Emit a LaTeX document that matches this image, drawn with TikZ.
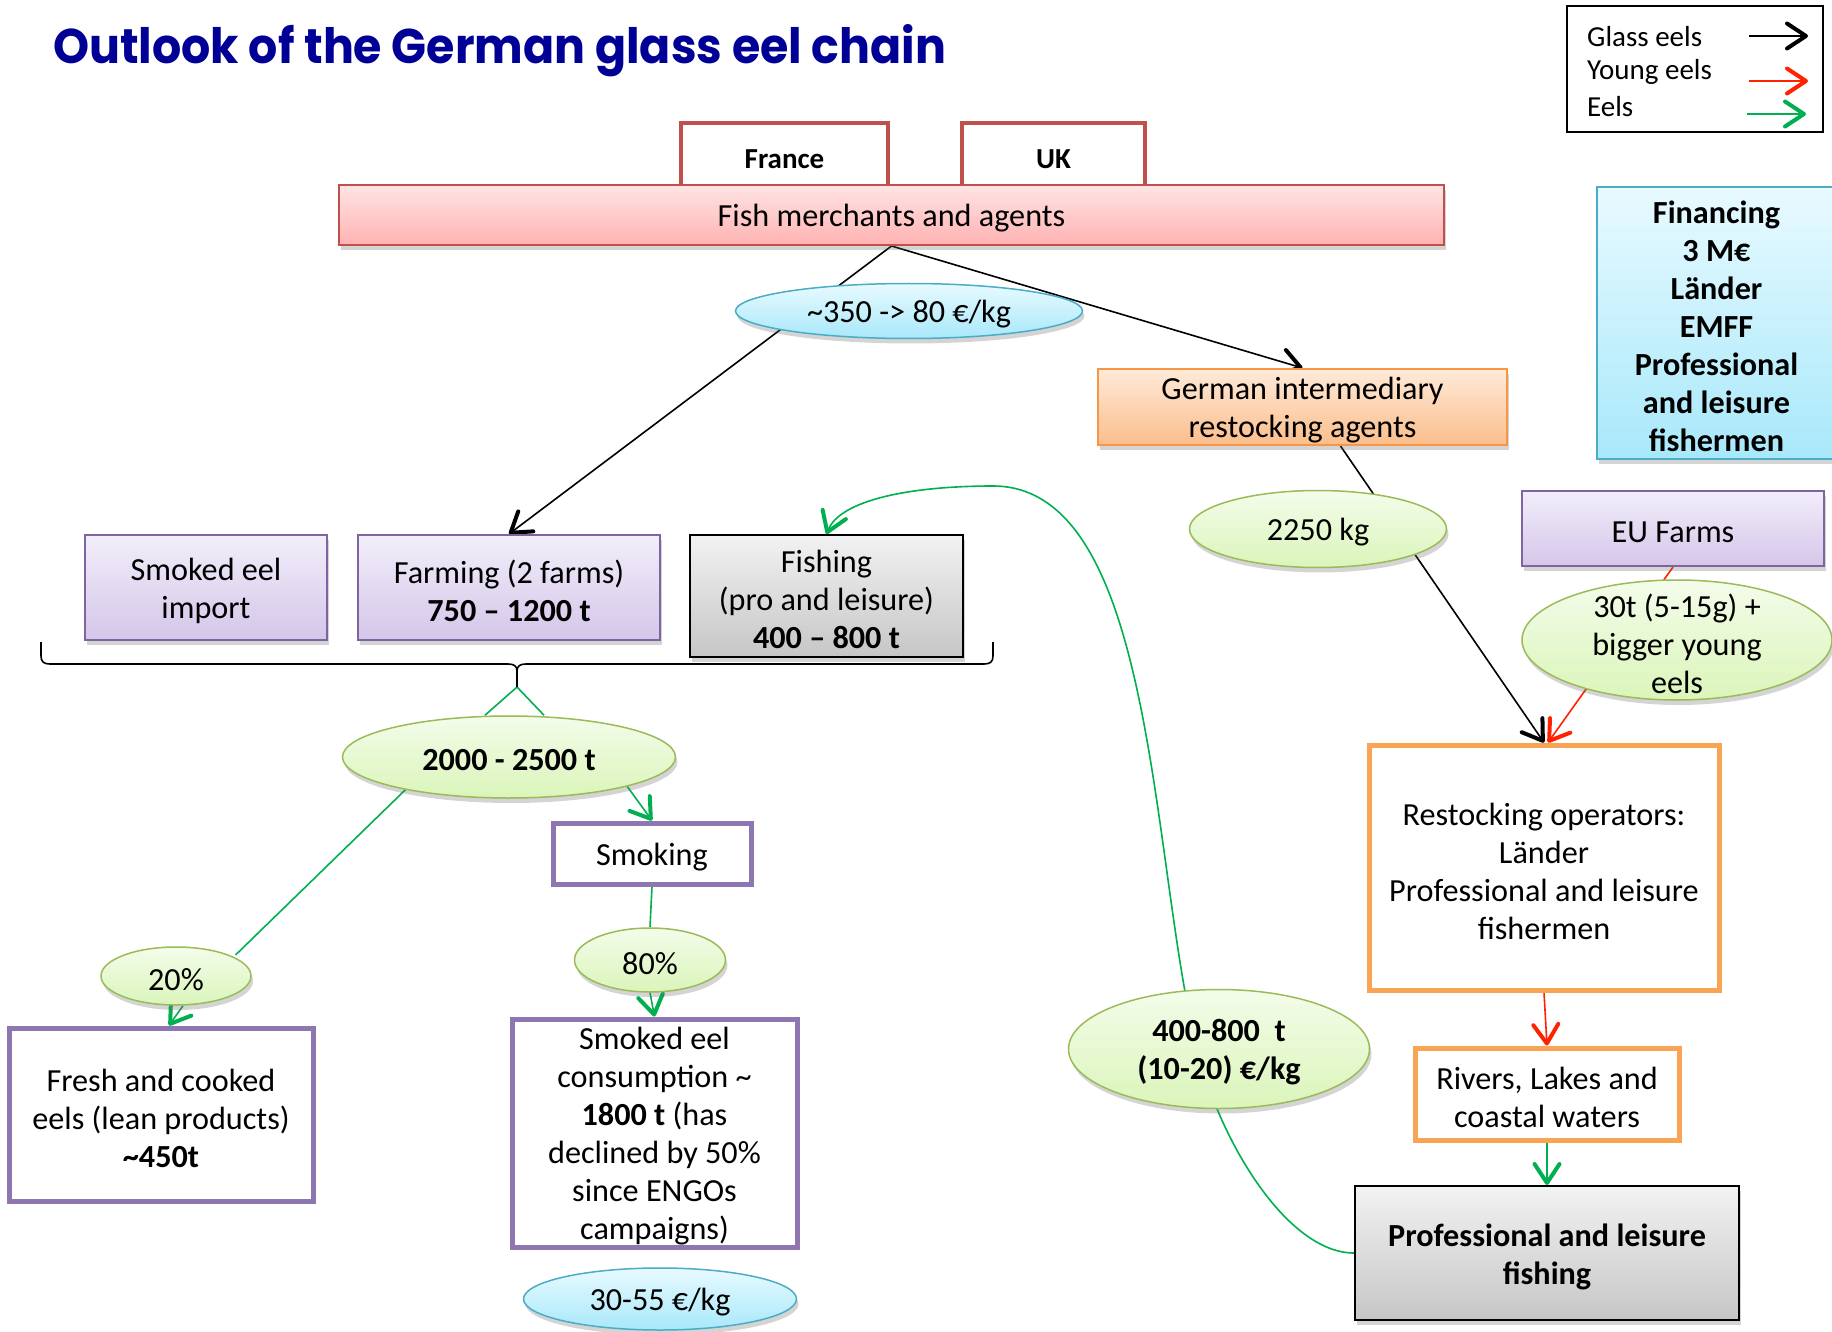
\documentclass[tikz,border=0pt]{standalone}
\usepackage{graphicx}
\usepackage{fontspec}
\setmainfont{Carlito}
\newfontfamily\headfont{Poppins}
\usetikzlibrary{shapes.geometric, arrows.meta, shadows, calc}
\pgfdeclarelayer{back}
\pgfsetlayers{back,main}

\definecolor{titleblue}{RGB}{0,0,150}
\definecolor{redbrd}{RGB}{192,80,77}
\definecolor{pinktop}{RGB}{255,228,228}
\definecolor{pinkbot}{RGB}{255,178,178}
\definecolor{bluebrd}{RGB}{75,172,198}
\definecolor{bluetop}{RGB}{232,250,255}
\definecolor{bluebot}{RGB}{168,232,250}
\definecolor{greenbrd}{RGB}{155,187,89}
\definecolor{greentop}{RGB}{244,252,234}
\definecolor{greenbot}{RGB}{218,245,186}
\definecolor{orangebrd}{RGB}{247,150,70}
\definecolor{orangethick}{RGB}{249,163,84}
\definecolor{orangetop}{RGB}{255,234,216}
\definecolor{orangebot}{RGB}{251,190,140}
\definecolor{purplebrd}{RGB}{128,100,162}
\definecolor{purplethick}{RGB}{142,118,176}
\definecolor{purpletop}{RGB}{242,238,250}
\definecolor{purplebot}{RGB}{212,198,233}
\definecolor{graytop}{RGB}{242,242,242}
\definecolor{graybot}{RGB}{198,198,198}
\definecolor{eelgreen}{RGB}{0,176,80}
\definecolor{youngred}{RGB}{255,34,0}

\newcommand\mainfs{\fontsize{32.2}{38}\selectfont}
\newcommand\flagfs{\fontsize{29}{34}\selectfont\bfseries}
\newcommand\legfs{\fontsize{29}{35}\selectfont}

\begin{document}
\begin{tikzpicture}[x=1pt, y=-1pt,
  every node/.style={inner sep=0pt, align=center, font=\mainfs},
  % text set a little below the geometric centre of its box
  tx/.style={label={[yshift=-3.5pt]center:{#1}}},
  txb/.style={label={[yshift=-3.5pt, font=\mainfs\bfseries]center:{#1}}},
  txf/.style={label={[yshift=-3pt, font=\flagfs]center:{#1}}},
  softshadow/.style={drop shadow={shadow xshift=2pt, shadow yshift=-5pt, opacity=0.28, fill=black!60}},
  pinkbox/.style={rectangle, draw=redbrd, line width=2, top color=pinktop, bottom color=pinkbot, softshadow},
  flagbox/.style={rectangle, draw=redbrd, line width=4.5, fill=white},
  blueell/.style={ellipse, draw=bluebrd, line width=1.5, top color=bluetop, bottom color=bluebot, softshadow},
  greenell/.style={ellipse, draw=greenbrd, line width=1.5, top color=greentop, bottom color=greenbot, softshadow},
  orangebox/.style={rectangle, draw=orangebrd, line width=2, top color=orangetop, bottom color=orangebot, softshadow},
  purplebox/.style={rectangle, draw=purplebrd, line width=2, top color=purpletop, bottom color=purplebot, softshadow},
  graybox/.style={rectangle, draw=black, line width=2, top color=graytop, bottom color=graybot, softshadow},
  cyanbox/.style={rectangle, draw=bluebrd, line width=2.5, top color=bluetop, bottom color=bluebot, softshadow},
  purpleframe/.style={rectangle, draw=purplethick, line width=5, fill=white},
  orangeframe/.style={rectangle, draw=orangethick, line width=5, fill=white},
  legbox/.style={rectangle, draw=black, line width=2, fill=white},
  tipV/.style={-{Straight Barb[length=19pt, width=25pt, line width=4pt, round]}},
  glass/.style={draw=black, line width=1.6, tipV},
  young/.style={draw=youngred, line width=1.6, tipV},
  eelarr/.style={draw=eelgreen, line width=1.6, tipV},
  eelline/.style={draw=eelgreen, line width=1.6},
]
\useasboundingbox (0,0) rectangle (1832,1332);
\begin{pgfonlayer}{back}
  \fill[white] (0,0) rectangle (1832,1332);
\end{pgfonlayer}

% heading
\node[anchor=base west, text=titleblue] (title) at (53,64)
  {\resizebox{893pt}{39pt}{\headfont\bfseries Outlook of the German glass eel chain}};

% legend
\node[legbox, minimum width=256, minimum height=126] (legend) at (1695,69) {};
\node[anchor=west, font=\legfs] (lgglass) at (1587,37) {Glass eels};
\node[anchor=west, font=\legfs] (lgyoung) at (1587,72) {Young eels};
\node[anchor=west, font=\legfs] (lgeels) at (1587,107) {Eels};
\coordinate (lga) at (1749,36);  \coordinate (lgb) at (1808,36);
\coordinate (lgc) at (1749,81);  \coordinate (lgd) at (1808,81);
\coordinate (lge) at (1747,114); \coordinate (lgf) at (1806,114);
\draw[glass] (lga) -- (lgb);
\draw[young] (lgc) -- (lgd);
\draw[eelarr] (lge) -- (lgf);

% financing
\node[cyanbox, minimum width=239, minimum height=272,
  txb={Financing\\3 M€\\Länder\\EMFF\\Professional\\and leisure\\fishermen}] (financing) at (1716.5,323) {};

% supply side
\node[flagbox, minimum width=207, minimum height=66, txf={France}] (france) at (784.5,156) {};
\node[flagbox, minimum width=183, minimum height=66, txf={UK}] (uk) at (1053.5,156) {};
\node[pinkbox, minimum width=1105, minimum height=60, tx={Fish merchants and agents}] (fish) at (891.5,215) {};
\node[blueell, minimum width=347, minimum height=55, tx={\textasciitilde350 -> 80 €/kg}] (e350) at (909,311) {};

% restocking branch
\node[orangebox, minimum width=409, minimum height=76,
  tx={German intermediary\\restocking agents}] (german) at (1302.5,407) {};
\node[greenell, minimum width=257, minimum height=77, tx={2250 kg}] (e2250) at (1318,529) {};
\node[purplebox, minimum width=302, minimum height=75, tx={EU Farms}] (eufarms) at (1673,528.5) {};
\node[greenell, minimum width=310, minimum height=120,
  tx={30t (5-15g) +\\bigger young\\eels}] (e30t) at (1677,640) {};
\node[orangeframe, minimum width=350, minimum height=245,
  tx={Restocking operators:\\Länder\\Professional and leisure\\fishermen}] (restock) at (1544,867.5) {};
\node[orangeframe, minimum width=264, minimum height=92,
  tx={Rivers, Lakes and\\coastal waters}] (rivers) at (1547,1094) {};
\node[graybox, minimum width=384, minimum height=134,
  txb={Professional and leisure\\fishing}] (pro) at (1547,1253) {};
\node[greenell, minimum width=301, minimum height=119,
  txb={400-800\ \ t\\(10-20) €/kg}] (e400) at (1219,1049) {};

% production side
\node[purplebox, minimum width=242, minimum height=105, tx={Smoked eel\\import}] (import) at (206,587.5) {};
\node[purplebox, minimum width=302, minimum height=105,
  tx={Farming (2 farms)\\\textbf{750 -- 1200 t}}] (farming) at (509,587.5) {};
\node[graybox, minimum width=273, minimum height=122,
  tx={Fishing\\(pro and leisure)\\\textbf{400 -- 800 t}}] (fishing) at (826.5,596) {};

% brace gathering the three sources
\coordinate (bracetip) at (517,687);
\coordinate (bracestem) at (517,671);
\draw[line width=1.6] (41,642) -- (41,656) .. controls (41,662) and (44,664) .. (50,664) -- (508,664)
  .. controls (514,664) and (517,666) .. (bracestem) -- (bracetip);
\draw[line width=1.6] (bracestem) .. controls (517,666) and (520,664) .. (526,664) -- (984,664)
  .. controls (990,664) and (993,662) .. (993,656) -- (993,642);

\node[greenell, minimum width=333, minimum height=82, txb={2000 - 2500 t}] (e2000) at (509,757) {};
\node[purpleframe, minimum width=198, minimum height=61, tx={Smoking}] (smoking) at (652,853.5) {};
\node[greenell, minimum width=151, minimum height=64, tx={80\%}] (p80) at (650,960) {};
\node[greenell, minimum width=150, minimum height=58, tx={20\%}] (p20) at (176,976) {};
\node[purpleframe, minimum width=304, minimum height=173,
  tx={Fresh and cooked\\eels (lean products)\\\textbf{\textasciitilde450t}}] (fresh) at (161,1114.5) {};
\node[purpleframe, minimum width=285, minimum height=228,
  tx={Smoked eel\\consumption \textasciitilde\\\textbf{1800 t} (has\\declined by 50\%\\since ENGOs\\campaigns)}] (consumption) at (654.5,1133) {};
\node[blueell, minimum width=273, minimum height=62, tx={30-55 €/kg}] (e3055) at (660,1299) {};

% flows
\begin{pgfonlayer}{back}
  \draw[glass] (fish.south) -- (farming.north);
  \draw[glass] (fish.south) -- (german.north);
  \draw[glass] ([xshift=38]german.south) -- (restock.north);
  \draw[young] (eufarms.south) -- ([xshift=4]restock.north);
  \draw[young] (restock.south) -- (rivers.north);
  \draw[eelarr] (rivers.south) -- (pro.north);
  \draw[eelline] (bracetip) -- ([xshift=-24]e2000.north);
  \draw[eelline] (bracetip) -- ([xshift=35]e2000.north);
  \draw[eelline] ([xshift=18]e2000.south west) -- ([xshift=6]p20.north east);
  \draw[eelarr] ([xshift=7]p20.south) -- ([xshift=8]fresh.north);
  \draw[eelarr] (e2000.south east) -- (smoking.north);
  \draw[eelline] (smoking.south) -- (p80.north);
  \draw[eelarr] (p80.south) -- (consumption.north);
  \draw[eelarr] (pro.west) .. controls (1290,1253) and (1225,1150) .. (1200,1060)
    .. controls (1150,880) and (1160,486) .. (993,486)
    .. controls (910,486) and (840,500) .. (fishing.north);
\end{pgfonlayer}
\end{tikzpicture}
\end{document}
